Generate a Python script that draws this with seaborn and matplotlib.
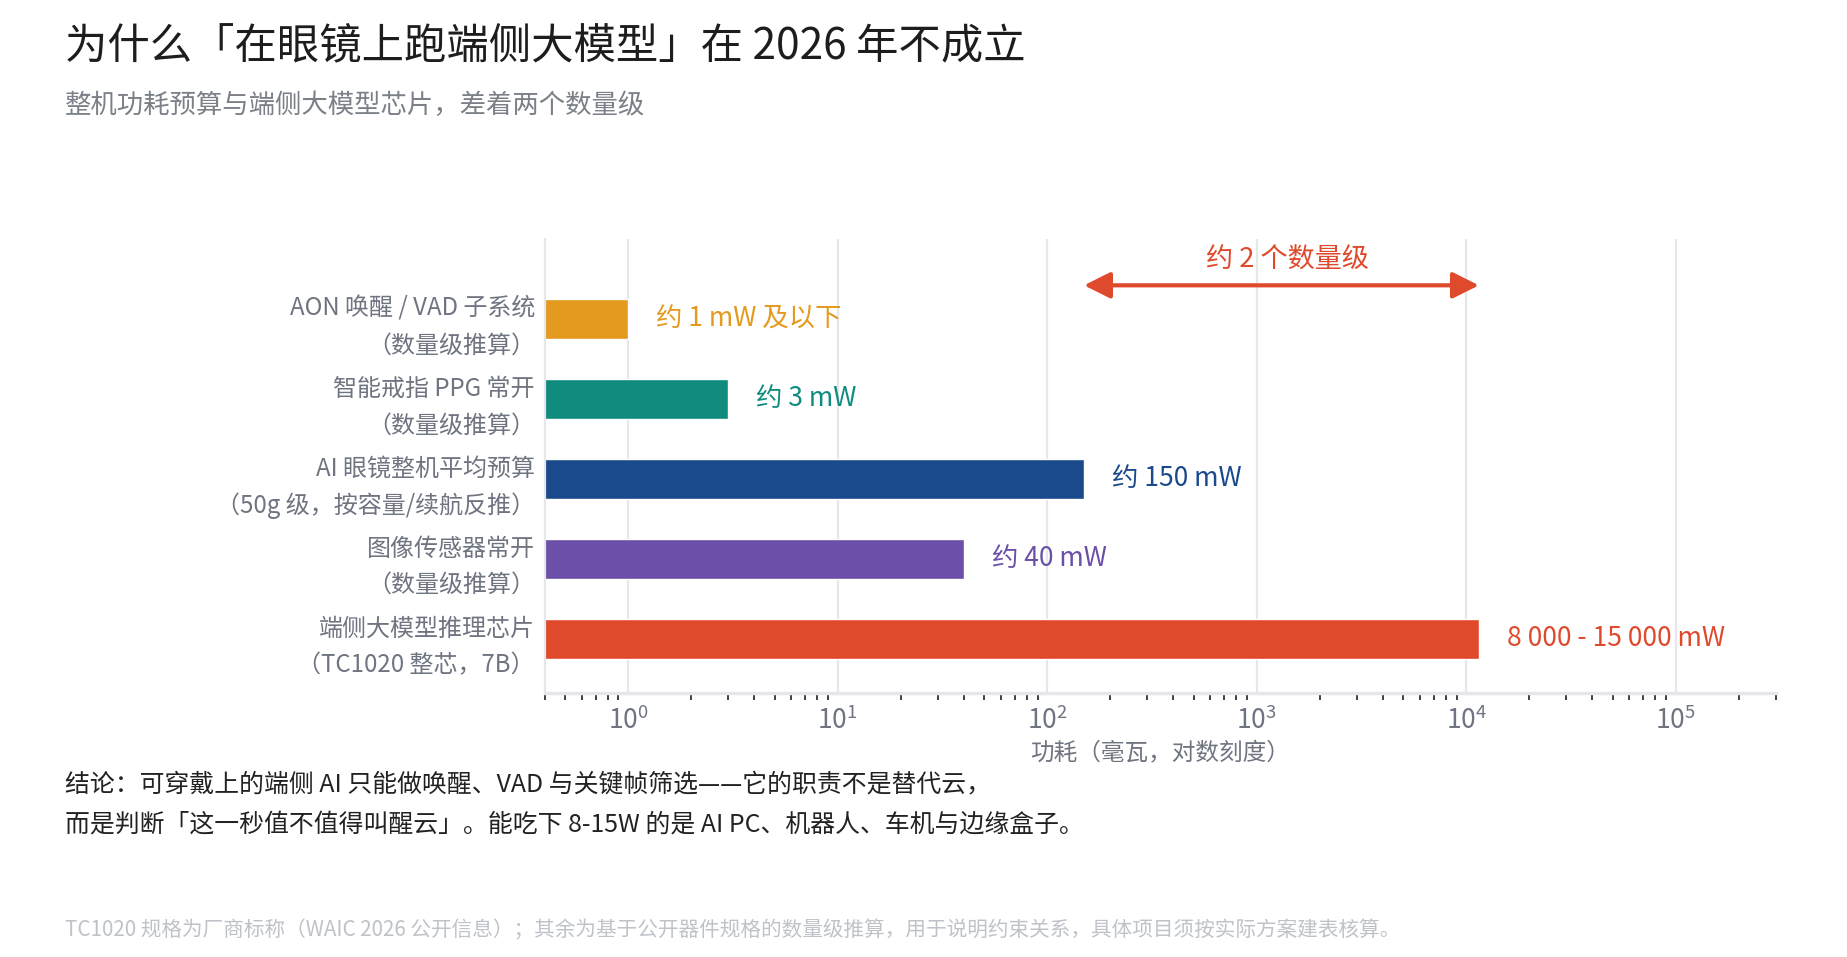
import matplotlib
matplotlib.use('Agg')
import matplotlib.pyplot as plt
import seaborn as sns
import numpy as np
import pandas as pd

# data
categories = [
    'AON 唤醒 / VAD 子系统\n（数量级推算）',
    '智能戒指 PPG 常开\n（数量级推算）',
    'AI 眼镜整机平均预算\n（50g 级，按容量/续航反推）',
    '图像传感器常开\n（数量级推算）',
    '端侧大模型推理芯片\n（TC1020 整芯，7B）',
]
power_mw = [1, 3, 150, 40, 11500]
value_labels = ['约 1 mW 及以下', '约 3 mW', '约 150 mW', '约 40 mW', '8 000 - 15 000 mW']
bar_colors = ['#E39A1E', '#0F8C7E', '#1B4A8C', '#6C4FA8', '#DF4A2C']
arrow_lo, arrow_hi = 150, 11500
arrow_text = '约 2 个数量级'

title = '为什么「在眼镜上跑端侧大模型」在 2026 年不成立'
subtitle = '整机功耗预算与端侧大模型芯片，差着两个数量级'
xlabel = '功耗（毫瓦，对数刻度）'
conclusion = ('结论：可穿戴上的端侧 AI 只能做唤醒、VAD 与关键帧筛选——它的职责不是替代云，\n'
              '而是判断「这一秒值不值得叫醒云」。能吃下 8-15W 的是 AI PC、机器人、车机与边缘盒子。')
footnote = ('TC1020 规格为厂商标称（WAIC 2026 公开信息）；其余为基于公开器件规格的数量级推算，'
            '用于说明约束关系，具体项目须按实际方案建表核算。')

df = pd.DataFrame({'category': categories, 'power': power_mw})

sns.set_style('white')
plt.rcParams['font.family'] = ['Noto Sans CJK SC', 'DejaVu Sans']
plt.rcParams['axes.unicode_minus'] = False

grey = '#6E7480'
red = '#DF4A2C'

fig = plt.figure(figsize=(18.47, 9.57), dpi=100)
ax = fig.add_axes([0.2949, 0.2759, 0.6665, 0.4744])

sns.barplot(data=df, x='power', y='category', hue='category', palette=bar_colors,
            width=0.5, legend=False, ax=ax, saturation=1)
ax.set_xscale('log')
ax.set_xlim(0.4, 3e5)
ax.set_ylim(4.68, -1.0)

# value labels
for i, (v, lab) in enumerate(zip(power_mw, value_labels)):
    ax.annotate(lab, xy=(v, i), xytext=(20, 0), textcoords='offset points',
                ha='left', va='center', fontsize=19, color=bar_colors[i])

# arrow showing the gap
ax.annotate('', xy=(arrow_hi, -0.42), xytext=(arrow_lo, -0.42),
            arrowprops=dict(arrowstyle='<|-|>,head_length=0.8,head_width=0.4',
                            color=red, lw=3, shrinkA=0, shrinkB=0, mutation_scale=20))
ax.text(np.sqrt(arrow_lo * arrow_hi) * 1.07, -0.73, arrow_text, ha='center', va='center',
        fontsize=19.5, color=red)

# axes styling
ax.grid(axis='x', which='major', color='#E6E7EB', lw=1.6)
ax.set_axisbelow(True)
for s in ['top', 'right']:
    ax.spines[s].set_visible(False)
ax.spines['left'].set_color('#E6E7EB')
ax.spines['left'].set_linewidth(1.6)
ax.spines['bottom'].set_color('#E6E7EB')
ax.spines['bottom'].set_linewidth(2.5)
ax.tick_params(axis='x', which='major', bottom=True, length=0, pad=10, labelsize=19,
               labelcolor=grey)
ax.tick_params(axis='x', which='minor', bottom=True, length=5, width=1.3, color='#333333',
               direction='out')
ax.tick_params(axis='y', length=0, pad=7, labelsize=17.3, labelcolor=grey)
for t in ax.get_yticklabels():
    t.set_linespacing(1.52)
ax.set_ylabel('')
ax.set_xlabel(xlabel, fontsize=17, color=grey, labelpad=5)

# titles and notes
fig.text(0.0352, 0.950, title, fontsize=30.5, color='#1D1D1F', ha='left', va='center')
fig.text(0.0352, 0.890, subtitle, fontsize=19, color='#7B8088', ha='left', va='center')
fig.text(0.0352, 0.159, conclusion, fontsize=17.9, color='#222222', ha='left', va='center',
         linespacing=1.7)
fig.text(0.0352, 0.028, footnote, fontsize=14.85, color='#BFC2C8', ha='left', va='center')

fig.savefig('out.png', dpi=100)
plt.close(fig)
